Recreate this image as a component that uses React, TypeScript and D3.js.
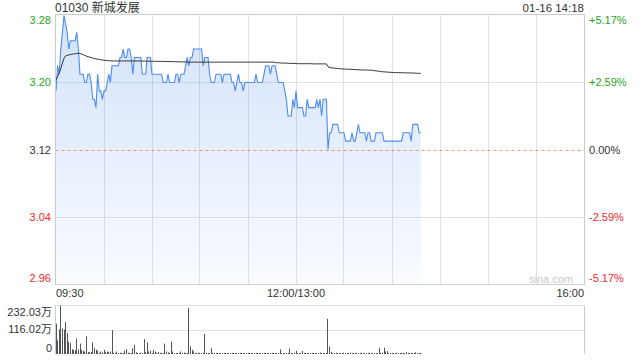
import React from 'react';
import * as d3 from 'd3';

const stockTitle = '01030 新城发展';
const timestamp = '01-16 14:18';
const prevClose = 3.12;
const maxPct = 0.0517;
const totalMinutes = 330;
const timeLabels = ['09:30', '12:00/13:00', '16:00'];
const timeLabelMinutes = [0, 150, 330];
const gridMinutes = [30, 60, 90, 120, 150, 180, 210, 240, 270, 300];
const priceTickLabels = ['3.28', '3.20', '3.12', '3.04', '2.96'];
const pctTickLabels = ['+5.17%', '+2.59%', '0.00%', '-2.59%', '-5.17%'];
const volumeTickLabels = ['232.03万', '116.02万', '0'];
const volumeMax = 232.03;
const watermark = 'sina.com';

// one value per minute from 09:30
const prices = [
  3.19, 3.22, 3.21, 3.24, 3.26, 3.28, 3.27, 3.26, 3.24, 3.25,
  3.25, 3.25, 3.25, 3.26, 3.24, 3.21, 3.21, 3.21, 3.20, 3.20,
  3.21, 3.21, 3.20, 3.18, 3.18, 3.17, 3.21, 3.19, 3.19, 3.18,
  3.19, 3.19, 3.20, 3.21, 3.20, 3.22, 3.22, 3.22, 3.22, 3.22,
  3.23, 3.23, 3.24, 3.23, 3.23, 3.24, 3.24, 3.23, 3.21, 3.23,
  3.23, 3.23, 3.23, 3.23, 3.21, 3.21, 3.21, 3.23, 3.23, 3.23,
  3.21, 3.21, 3.21, 3.21, 3.21, 3.21, 3.21, 3.20, 3.20, 3.20,
  3.21, 3.20, 3.20, 3.20, 3.20, 3.21, 3.21, 3.20, 3.21, 3.21,
  3.21, 3.22, 3.23, 3.22, 3.23, 3.23, 3.24, 3.24, 3.24, 3.24,
  3.24, 3.24, 3.22, 3.23, 3.23, 3.23, 3.21, 3.20, 3.20, 3.20,
  3.21, 3.21, 3.21, 3.21, 3.20, 3.21, 3.21, 3.21, 3.21, 3.21,
  3.20, 3.20, 3.19, 3.20, 3.21, 3.20, 3.20, 3.19, 3.20, 3.20,
  3.20, 3.20, 3.20, 3.20, 3.20, 3.21, 3.20, 3.20, 3.20, 3.20,
  3.21, 3.22, 3.22, 3.22, 3.21, 3.22, 3.22, 3.22, 3.21, 3.20,
  3.20, 3.20, 3.20, 3.19, 3.18, 3.16, 3.16, 3.16, 3.18, 3.17,
  3.19, 3.17, 3.17, 3.17, 3.17, 3.16, 3.16, 3.18, 3.17, 3.17,
  3.17, 3.17, 3.17, 3.18, 3.17, 3.18, 3.16, 3.18, 3.18, 3.18,
  3.12, 3.14, 3.14, 3.15, 3.15, 3.15, 3.15, 3.14, 3.14, 3.14,
  3.14, 3.13, 3.13, 3.13, 3.13, 3.14, 3.13, 3.13, 3.14, 3.15,
  3.14, 3.14, 3.14, 3.14, 3.13, 3.14, 3.14, 3.13, 3.13, 3.13,
  3.14, 3.14, 3.14, 3.14, 3.14, 3.13, 3.13, 3.13, 3.13, 3.13,
  3.13, 3.13, 3.13, 3.13, 3.13, 3.13, 3.13, 3.14, 3.14, 3.14,
  3.14, 3.14, 3.13, 3.15, 3.15, 3.15, 3.15, 3.14, 3.14,
];

const avgPrices = [
  3.2033, 3.2073, 3.2110, 3.2170, 3.2231, 3.2290, 3.2318, 3.2325, 3.2330, 3.2334,
  3.2338, 3.2342, 3.2345, 3.2348, 3.2350, 3.2346, 3.2340, 3.2332, 3.2324, 3.2316,
  3.2310, 3.2303, 3.2298, 3.2292, 3.2286, 3.2282, 3.2279, 3.2276, 3.2273, 3.2270,
  3.2267, 3.2265, 3.2263, 3.2261, 3.2259, 3.2258, 3.2258, 3.2258, 3.2258, 3.2258,
  3.2258, 3.2258, 3.2258, 3.2258, 3.2258, 3.2258, 3.2258, 3.2258, 3.2258, 3.2258,
  3.2258, 3.2258, 3.2257, 3.2257, 3.2256, 3.2256, 3.2256, 3.2256, 3.2255, 3.2255,
  3.2255, 3.2254, 3.2254, 3.2254, 3.2253, 3.2253, 3.2253, 3.2252, 3.2252, 3.2252,
  3.2251, 3.2251, 3.2250, 3.2250, 3.2249, 3.2249, 3.2248, 3.2248, 3.2247, 3.2247,
  3.2246, 3.2246, 3.2245, 3.2245, 3.2244, 3.2244, 3.2244, 3.2244, 3.2244, 3.2244,
  3.2244, 3.2244, 3.2244, 3.2244, 3.2244, 3.2244, 3.2244, 3.2244, 3.2244, 3.2244,
  3.2244, 3.2244, 3.2244, 3.2244, 3.2244, 3.2244, 3.2244, 3.2244, 3.2244, 3.2244,
  3.2244, 3.2244, 3.2244, 3.2244, 3.2244, 3.2244, 3.2244, 3.2244, 3.2244, 3.2244,
  3.2244, 3.2244, 3.2244, 3.2244, 3.2244, 3.2244, 3.2244, 3.2244, 3.2244, 3.2244,
  3.2244, 3.2244, 3.2244, 3.2244, 3.2244, 3.2244, 3.2244, 3.2240, 3.2236, 3.2236,
  3.2236, 3.2232, 3.2232, 3.2232, 3.2232, 3.2232, 3.2228, 3.2228, 3.2228, 3.2228,
  3.2228, 3.2225, 3.2225, 3.2225, 3.2225, 3.2225, 3.2225, 3.2225, 3.2225, 3.2225,
  3.2225, 3.2223, 3.2223, 3.2223, 3.2223, 3.2223, 3.2223, 3.2223, 3.2223, 3.2223,
  3.2190, 3.2180, 3.2176, 3.2174, 3.2172, 3.2170, 3.2168, 3.2166, 3.2164, 3.2163,
  3.2162, 3.2161, 3.2160, 3.2159, 3.2158, 3.2157, 3.2156, 3.2155, 3.2154, 3.2153,
  3.2152, 3.2151, 3.2150, 3.2150, 3.2149, 3.2149, 3.2148, 3.2148, 3.2145, 3.2142,
  3.2140, 3.2137, 3.2134, 3.2131, 3.2129, 3.2128, 3.2126, 3.2125, 3.2124, 3.2122,
  3.2121, 3.2120, 3.2119, 3.2119, 3.2118, 3.2118, 3.2117, 3.2117, 3.2116, 3.2116,
  3.2115, 3.2115, 3.2114, 3.2114, 3.2113, 3.2112, 3.2111, 3.2110, 3.2109,
];

// volume per minute, in 万 shares
const volumes = [
  145, 66, 117, 232.03, 122, 117, 153, 101, 58, 52,
  22, 20, 18, 74, 22, 50, 20, 15, 12, 85,
  10, 8, 9, 55, 28, 20, 16, 6, 12, 8,
  20, 8, 12, 10, 12, 114, 6, 5, 12, 4,
  6, 3, 5, 16, 23, 6, 4, 5, 28, 44,
  8, 5, 4, 6, 3, 71, 8, 56, 12, 16,
  4, 20, 12, 3, 9, 4, 6, 3, 50, 12,
  8, 4, 60, 12, 3, 5, 5, 3, 12, 5,
  7, 3, 4, 220, 36, 20, 12, 5, 5, 4,
  6, 3, 4, 97, 5, 3, 4, 28, 4, 3,
  4, 3, 5, 3, 2, 4, 3, 5, 2, 3,
  4, 2, 3, 5, 3, 2, 4, 3, 3, 2,
  4, 3, 2, 3, 4, 2, 3, 5, 3, 2,
  3, 4, 2, 3, 2, 4, 3, 2, 3, 4,
  22, 3, 4, 2, 5, 3, 25, 4, 3, 5,
  16, 4, 3, 5, 15, 3, 4, 3, 5, 2,
  4, 3, 5, 3, 4, 6, 3, 4, 3, 5,
  168, 36, 10, 5, 4, 6, 3, 5, 4, 3,
  6, 4, 5, 3, 7, 4, 3, 6, 4, 5,
  3, 6, 4, 5, 3, 4, 6, 3, 5, 4,
  3, 5, 30, 4, 6, 30, 12, 14, 4, 3,
  5, 4, 3, 6, 4, 3, 5, 4, 3, 10,
  4, 3, 5, 4, 3, 8, 4, 3, 4,
];

const GREEN = '#1ea51e';
const RED = '#ee2a2a';
const DARK = '#333333';
const FONT = '"Liberation Sans", Arial, "Noto Sans CJK SC", sans-serif';

export default function App() {
  const left = 55.5;
  const right = 584.5;
  const top = 14.5;
  const bottom = 284.5;
  const vTop = 305.5;
  const vBottom = 354;

  const x = d3.scaleLinear().domain([0, totalMinutes]).range([56, 584]);
  const lo = prevClose * (1 - maxPct);
  const hi = prevClose * (1 + maxPct);
  const y = d3.scaleLinear().domain([lo, hi]).range([284.5, 14.5]);
  const yv = d3.scaleLinear().domain([0, volumeMax]).range([vBottom, vTop]);

  const line = d3.line<number>().x((_, i) => x(i)).y((d) => y(d));
  const area = d3.area<number>().x((_, i) => x(i)).y0(bottom).y1((d) => y(d));

  const tickValues = [0, 1, 2, 3, 4].map((i) => prevClose * (1 + maxPct * (1 - i / 2)));
  const labelY = (i: number, yy: number) => (i === 0 ? yy + 5.5 : i === 4 ? yy - 7 : yy);
  const labelColor = (i: number) => (i < 2 ? GREEN : i === 2 ? DARK : RED);

  const volTickVals = [volumeMax, volumeMax / 2, 0];
  const volLabelY = (i: number, yy: number) => (i === 0 ? yy + 6 : i === 2 ? yy - 6.5 : yy - 0.5);

  return (
    <svg
      width={640}
      height={360}
      style={{ position: 'absolute', left: 0, top: 0, background: '#fff', fontFamily: FONT }}
    >
      <defs>
        <linearGradient id="fillGrad" gradientUnits="userSpaceOnUse" x1="0" y1={top} x2="0" y2={bottom}>
          <stop offset="0%" stopColor="rgb(77,140,240)" stopOpacity={0.25} />
          <stop offset="100%" stopColor="rgb(77,140,240)" stopOpacity={0.03} />
        </linearGradient>
      </defs>

      {/* header */}
      <text x={55} y={12} fontSize={12} fill={DARK}>{stockTitle}</text>
      <text x={584} y={12} fontSize={11.5} fill={DARK} textAnchor="end">{timestamp}</text>

      {/* vertical grid */}
      {gridMinutes.map((m) => (
        <line key={m} x1={Math.floor(x(m)) + 0.5} x2={Math.floor(x(m)) + 0.5} y1={top} y2={bottom}
          stroke="#c4c4c4" strokeDasharray="1,1" />
      ))}
      {/* horizontal grid */}
      {[1, 3].map((i) => (
        <line key={i} x1={left} x2={right} y1={Math.round(y(tickValues[i])) + 0.5} y2={Math.round(y(tickValues[i])) + 0.5}
          stroke="#c4c4c4" strokeDasharray="1,1" />
      ))}

      {/* area + line */}
      <path d={area(prices) || ''} fill="url(#fillGrad)" />
      <line x1={left} x2={right} y1={Math.round(y(prevClose)) + 0.5} y2={Math.round(y(prevClose)) + 0.5}
        stroke="#e89a78" strokeDasharray="3,3" />
      <path d={line(prices) || ''} fill="none" stroke="#4d8cf0" strokeWidth={1.1} />
      <path d={line(avgPrices) || ''} fill="none" stroke="#333" strokeWidth={1} />

      {/* frame */}
      <rect x={left} y={top} width={right - left} height={bottom - top} fill="none" stroke="#cccccc" />

      {/* price labels */}
      {tickValues.map((v, i) => (
        <g key={i}>
          <text x={51} y={labelY(i, y(v))} fontSize={11} fill={labelColor(i)} textAnchor="end" dominantBaseline="central">
            {priceTickLabels[i]}
          </text>
          <text x={589} y={labelY(i, y(v))} fontSize={11} fill={labelColor(i)} textAnchor="start" dominantBaseline="central">
            {pctTickLabels[i]}
          </text>
        </g>
      ))}

      <text x={573} y={279} fontSize={11} fill="#c8c8c8" textAnchor="end" dominantBaseline="central">{watermark}</text>

      {/* time labels */}
      {timeLabels.map((t, i) => (
        <text key={t} x={x(timeLabelMinutes[i])} y={293} fontSize={11} fill={DARK}
          textAnchor={i === 0 ? 'start' : i === 1 ? 'middle' : 'end'} dominantBaseline="central">
          {t}
        </text>
      ))}

      {/* volume panel */}
      <line x1={left} x2={right} y1={vTop} y2={vTop} stroke="#c4c4c4" strokeDasharray="1,1" />
      <line x1={left} x2={right} y1={Math.round(yv(volumeMax / 2)) + 0.5} y2={Math.round(yv(volumeMax / 2)) + 0.5}
        stroke="#c4c4c4" strokeDasharray="1,1" />
      <line x1={left} x2={left} y1={vTop} y2={vBottom} stroke="#cccccc" />
      <line x1={right} x2={right} y1={vTop} y2={vBottom} stroke="#cccccc" />
      {volumes.map((v, i) => (
        <line key={i} x1={Math.floor(x(i)) + 0.5} x2={Math.floor(x(i)) + 0.5} y1={vBottom} y2={Math.min(vBottom - 1, yv(v))}
          stroke="#555" strokeWidth={1} />
      ))}
      {volTickVals.map((v, i) => (
        <text key={i} x={52} y={volLabelY(i, yv(v))} fontSize={11} fill={DARK} textAnchor="end" dominantBaseline="central">
          {volumeTickLabels[i]}
        </text>
      ))}
    </svg>
  );
}
